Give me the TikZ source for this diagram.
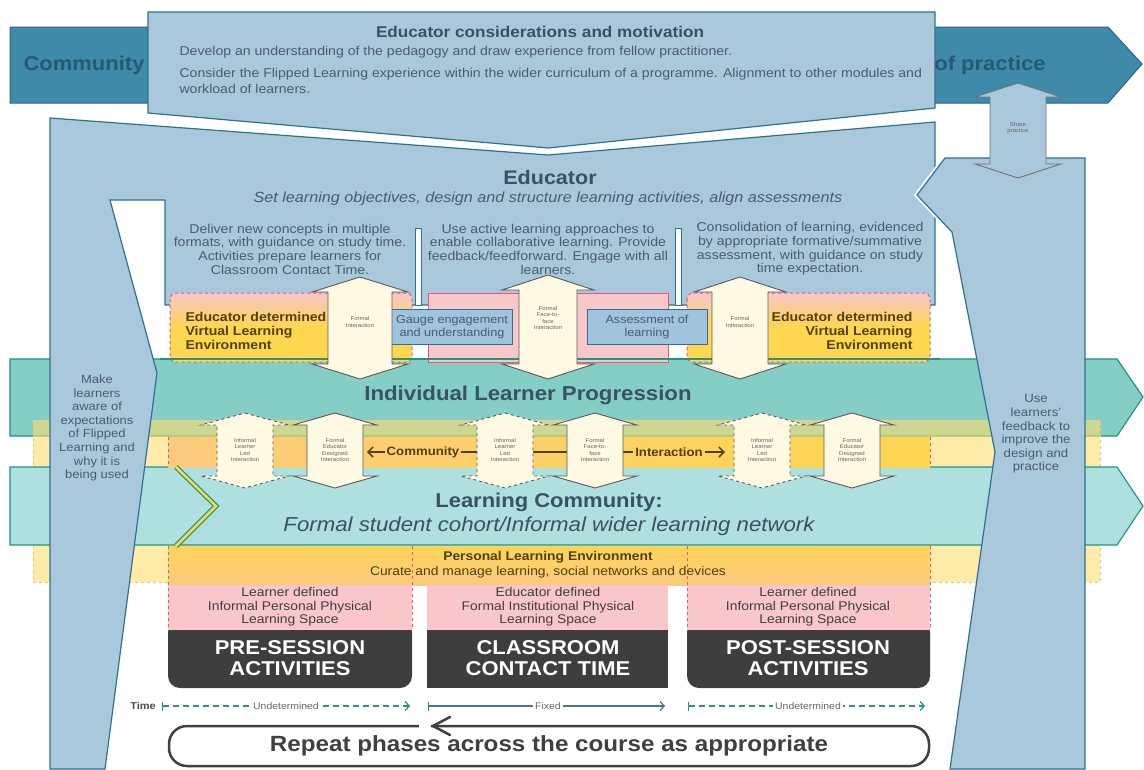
\documentclass[tikz,border=0pt]{standalone}
\usepackage{fontspec}
\setmainfont[FakeStretch=1.1]{Liberation Sans}
\usepackage{xcolor}
\usetikzlibrary{arrows.meta}
\definecolor{copteal}{RGB}{62,138,168}
\definecolor{copedge}{RGB}{40,100,130}
\definecolor{coptext}{RGB}{40,88,115}
\definecolor{edublue}{RGB}{170,200,220}
\definecolor{eduedge}{RGB}{45,115,145}
\definecolor{ilpteal}{RGB}{132,206,198}
\definecolor{ilpedge}{RGB}{30,150,130}
\definecolor{lcteal}{RGB}{174,224,224}
\definecolor{yelband}{RGB}{255,222,110}
\definecolor{orng}{RGB}{252,202,125}
\definecolor{gold}{RGB}{254,214,80}
\definecolor{pnk}{RGB}{249,198,202}
\definecolor{redd}{RGB}{228,90,110}
\definecolor{cream}{RGB}{253,249,226}
\definecolor{darkbox}{RGB}{62,62,62}
\definecolor{txtblue}{RGB}{75,92,110}
\definecolor{titleblue}{RGB}{58,82,98}
\definecolor{olive}{RGB}{80,65,10}
\definecolor{gaugeblue}{RGB}{160,195,222}
\definecolor{timegreen}{RGB}{40,150,130}
\definecolor{timeblue}{RGB}{70,120,150}

\newcommand{\vdarrow}[7][]{%
  \draw[#1] (#2,#3) -- ({#2+#6},{#3+#7}) -- ({#2+#5},{#3+#7}) -- ({#2+#5},{#4-#7})
    -- ({#2+#6},{#4-#7}) -- (#2,#4) -- ({#2-#6},{#4-#7}) -- ({#2-#5},{#4-#7})
    -- ({#2-#5},{#3+#7}) -- ({#2-#6},{#3+#7}) -- cycle;}

\tikzset{
  eduline/.style={fill=edublue, draw=eduedge, line width=1.2pt},
  bandline/.style={draw=ilpedge, line width=1.2pt},
  body/.style={font=\fontsize{12.8}{13.7}\selectfont, text=txtblue, align=center},
  tinytxt/.style={font=\fontsize{5.5}{6.5}\selectfont, text=black!60, align=center},
  vletxt/.style={font=\bfseries\fontsize{12.8}{14}\selectfont, text=olive},
  spacetxt/.style={font=\fontsize{12.6}{13.5}\selectfont, text=black!75, align=center},
  phasetxt/.style={font=\bfseries\fontsize{20}{20.5}\selectfont, text=white, align=center},
  bigtitle/.style={font=\bfseries\fontsize{20}{22}\selectfont, text=titleblue},
  formalarrow/.style={fill=cream, draw=black!65, line width=0.9pt},
  informalarrow/.style={fill=cream, draw=black!65, line width=0.9pt, dashed},
  vlebox/.style={top color=pnk, bottom color=gold, middle color=gold, draw=redd, dashed, line width=1pt, rounded corners=6pt},
  gaugebox/.style={fill=gaugeblue, draw=eduedge, line width=1pt, font=\fontsize{11.5}{12.5}\selectfont, text=txtblue, align=center, inner sep=0pt},
  timetxt/.style={font=\fontsize{9.5}{10}\selectfont, text=black!60, fill=white, inner sep=2pt},
  redside/.style={draw=redd, dashed, line width=1pt},
  timedash/.style={dash pattern=on 6pt off 4pt}
}

\begin{document}
\begin{tikzpicture}[x=1pt,y=-1pt]
\useasboundingbox (0,0) rectangle (1144,769);

\draw[fill=copteal, draw=copedge, line width=1pt] (10,27) -- (1108,27) -- (1142,64) -- (1108,103) -- (10,103) -- cycle;
\draw[eduline] (148,12) -- (935,12) -- (935,108) -- (548,148) -- (148,113) -- cycle;

\node (cop1) at (84,65) [font=\bfseries\fontsize{20}{21}\selectfont, text=coptext] {Community};
\node (cop2) at (990,65) [font=\bfseries\fontsize{20}{21}\selectfont, text=coptext] {of practice};
\node (consid) at (540,32) [font=\bfseries\fontsize{15.6}{17}\selectfont, text=titleblue] {Educator considerations and motivation};
\node (consa) at (176,52) [anchor=west, font=\fontsize{12.8}{14}\selectfont, text=txtblue] {Develop an understanding of the pedagogy and draw experience from fellow practitioner.};
\node (consb) at (176,81) [anchor=west, align=left, font=\fontsize{12.8}{16}\selectfont, text=txtblue] {Consider the Flipped Learning experience within the wider curriculum of a programme. Alignment to other modules and\\workload of learners.};

\draw[ilpteal, fill=ilpteal] (10,359) -- (1117,359) -- (1143,397) -- (1117,436) -- (10,436) -- cycle;
\draw[bandline] (10,359) -- (1117,359) -- (1143,397) -- (1117,436) -- (10,436) -- cycle;
\draw[fill=yelband, fill opacity=0.6, draw=orange!50, dashed, line width=1pt] (33,420) rectangle (1100,582);
\draw[bandline, fill=lcteal] (10,467) -- (1117,467) -- (1143,506) -- (1117,545) -- (10,545) -- cycle;

\draw[white, line width=5pt] (50,118) -- (548,155) -- (935,122);
\draw[eduline] (50,118) -- (548,155) -- (935,122) -- (935,305) -- (165,305) -- (165,200) -- (110,200) -- (157,373) -- (105,769) -- (50,769) -- cycle;
\draw[white, line width=5pt] (945,158) -- (917,195) -- (952,232) -- (966,305);
\draw[eduline] (945,158) -- (1085,158) -- (1085,769) -- (950,769) -- (995,452) -- (952,232) -- (917,195) -- cycle;
\vdarrow[fill=edublue, draw=black!55, line width=0.9pt]{1018}{83}{178}{28}{43}{14}
\node (share) at (1018,128) [tinytxt] {Share\\practice};

\draw[fill=white, draw=eduedge, line width=0.8pt] (415,228) rectangle (421,305);
\draw[fill=white, draw=eduedge, line width=0.8pt] (675,228) rectangle (681,305);

\node (edu) at (550,177) [font=\bfseries\fontsize{19.6}{22}\selectfont, text=titleblue] {Educator};
\node (edusub) at (548,199) [font=\itshape\fontsize{14.7}{16}\selectfont, text=txtblue] {Set learning objectives, design and structure learning activities, align assessments};
\node (colpre) at (290,249) [body] {Deliver new concepts in multiple\\formats, with guidance on study time.\\Activities prepare learners for\\Classroom Contact Time.};
\node (colcls) at (548,249) [body] {Use active learning approaches to\\enable collaborative learning. Provide\\feedback/feedforward. Engage with all\\learners.};
\node (colpst) at (810,249) [body] {Consolidation of learning, evidenced\\by appropriate formative/summative\\assessment, with guidance on study\\time expectation.};
\node (aware) at (97,428) [body, font=\fontsize{11.8}{13.6}\selectfont] {Make\\learners\\aware of\\expectations\\of Flipped\\Learning and\\why it is\\being used};
\node (feedb) at (1036,434) [body, font=\fontsize{12}{13.6}\selectfont] {Use\\learners'\\feedback to\\improve the\\design and\\practice};

\draw[vlebox] (170,293) rectangle (412,362);
\draw[fill=pnk, draw=redd, line width=1pt] (428,293) rectangle (668,362);
\draw[vlebox] (687,293) rectangle (930,362);
\draw[bandline] (160,359) -- (940,359);
\node (vlepre) at (182,331) [vletxt, anchor=west, align=left] {Educator determined\\Virtual Learning\\Environment};
\node (vlepst) at (916,331) [vletxt, anchor=east, align=right] {Educator determined\\Virtual Learning\\Environment};
\node (gauge) at (452,327) [gaugebox, minimum width=121, minimum height=35] {Gauge engagement\\and understanding};
\node (assess) at (647,327) [gaugebox, minimum width=120, minimum height=35] {Assessment of\\learning};

\shade[left color=orng, right color=gold] (168,437) rectangle (930,467);
\draw[redside] (168,437) -- (168,467);
\draw[redside] (930,437) -- (930,467);
\shade[top color=gold!80!orng, bottom color=orng] (168,546) rectangle (930,585);
\fill[darkbox, rounded corners=12pt] (168,620) rectangle (412,688);
\fill[darkbox] (427,620) rectangle (668,688);
\fill[darkbox, rounded corners=12pt] (687,620) rectangle (930,688);
\fill[pnk] (168,585) rectangle (412,630);
\fill[pnk] (427,585) rectangle (668,630);
\fill[pnk] (687,585) rectangle (930,630);
\draw[redside] (168,546) -- (168,630);
\draw[redside] (412,546) -- (412,630);
\draw[redside] (687,546) -- (687,630);
\draw[redside] (930,546) -- (930,630);
\draw[ilpedge, line width=5pt] (176,467) -- (216,506) -- (176,546);
\draw[gold, line width=2.5pt] (176,467) -- (216,506) -- (176,546);

\node (ilp) at (528,395) [bigtitle, font=\bfseries\fontsize{20.2}{22}\selectfont] {Individual Learner Progression};
\node (lc) at (549,502) [bigtitle] {Learning Community:};
\node (lcsub) at (549,526) [font=\itshape\fontsize{20.2}{22}\selectfont, text=titleblue] {Formal student cohort/Informal wider learning network};
\node (ple) at (548,557) [font=\bfseries\fontsize{12.6}{13}\selectfont, text=olive] {Personal Learning Environment};
\node (plesub) at (548,572) [font=\fontsize{12.6}{13}\selectfont, text=olive] {Curate and manage learning, social networks and devices};
\node (sppre) at (290,607) [spacetxt] {Learner defined\\Informal Personal Physical\\Learning Space};
\node (spcls) at (548,607) [spacetxt] {Educator defined\\Formal Institutional Physical\\Learning Space};
\node (sppst) at (808,607) [spacetxt] {Learner defined\\Informal Personal Physical\\Learning Space};
\node (pre) at (290,658) [phasetxt] {PRE-SESSION\\ACTIVITIES};
\node (cls) at (548,658) [phasetxt] {CLASSROOM\\CONTACT TIME};
\node (pst) at (808,658) [phasetxt] {POST-SESSION\\ACTIVITIES};

\coordinate (CL) at (367,452);
\coordinate (CR) at (725,452);
\draw[olive, line width=1.5pt, {Straight Barb[length=5pt,width=10pt]}-{Straight Barb[length=5pt,width=10pt]}] (CL) -- (CR);
\node (comm) at (423,452) [fill=orng!70!gold, inner sep=2pt, font=\bfseries\fontsize{12}{14}\selectfont, text=olive] {Community};
\node (inter) at (669,452) [fill=gold!70!orng, inner sep=2pt, font=\bfseries\fontsize{12}{14}\selectfont, text=olive] {Interaction};

\vdarrow[formalarrow]{360}{277}{379}{32}{48}{15}
\vdarrow[formalarrow]{548}{275}{379}{29}{46}{15}
\vdarrow[formalarrow]{740}{277}{379}{28}{46}{15}
\node (fia) at (360,322) [tinytxt] {Formal\\Interaction};
\node (fib) at (548,318) [tinytxt] {Formal\\Face-to-\\face\\Interaction};
\node (fic) at (740,322) [tinytxt] {Formal\\Interaction};

\vdarrow[informalarrow]{245}{413}{488}{28}{44}{12}
\vdarrow[formalarrow]{335}{413}{488}{28}{42}{12}
\vdarrow[informalarrow]{505}{413}{488}{28}{44}{12}
\vdarrow[formalarrow]{595}{413}{488}{28}{42}{12}
\vdarrow[informalarrow]{762}{413}{488}{28}{44}{12}
\vdarrow[formalarrow]{852}{413}{488}{28}{42}{12}
\node (ila) at (245,450) [tinytxt] {Informal\\Learner\\Led\\Interaction};
\node (fea) at (335,450) [tinytxt] {Formal\\Educator\\Designed\\Interaction};
\node (ilb) at (505,450) [tinytxt] {Informal\\Learner\\Led\\Interaction};
\node (ffb) at (595,450) [tinytxt] {Formal\\Face-to-\\face\\Interaction};
\node (ilc) at (762,450) [tinytxt] {Informal\\Learner\\Led\\Interaction};
\node (fec) at (852,450) [tinytxt] {Formal\\Educator\\Designed\\Interaction};

\coordinate (T1) at (162,706);
\coordinate (T2) at (410,706);
\coordinate (T3) at (428,706);
\coordinate (T4) at (665,706);
\coordinate (T5) at (688,706);
\coordinate (T6) at (925,706);
\node (time) at (143,706) [font=\bfseries\fontsize{10}{11}\selectfont, text=black!70] {Time};
\draw[timegreen, timedash, line width=1.3pt, {Bar[width=9pt]}-{Straight Barb[length=4pt,width=9pt]}] (T1) -- (T2);
\draw[timeblue, line width=1.3pt, {Bar[width=9pt]}-{Straight Barb[length=4pt,width=9pt]}] (T3) -- (T4);
\draw[timegreen, timedash, line width=1.3pt, {Bar[width=9pt]}-{Straight Barb[length=4pt,width=9pt]}] (T5) -- (T6);
\node (und1) at (286,706) [timetxt] {Undetermined};
\node (fixed) at (548,706) [timetxt] {Fixed};
\node (und2) at (808,706) [timetxt] {Undetermined};

\node (repeat) at (549,746) [draw=black!75, line width=2.5pt, rounded corners=18pt, minimum width=760, minimum height=40, fill=white, font=\bfseries\fontsize{22}{23}\selectfont, text=black!75] {Repeat phases across the course as appropriate};
\fill[white] (419,722) rectangle (431,730);
\draw[black!75, line width=2.5pt, line cap=round] (450,717) -- (433,726) -- (450,735);
\end{tikzpicture}
\end{document}
